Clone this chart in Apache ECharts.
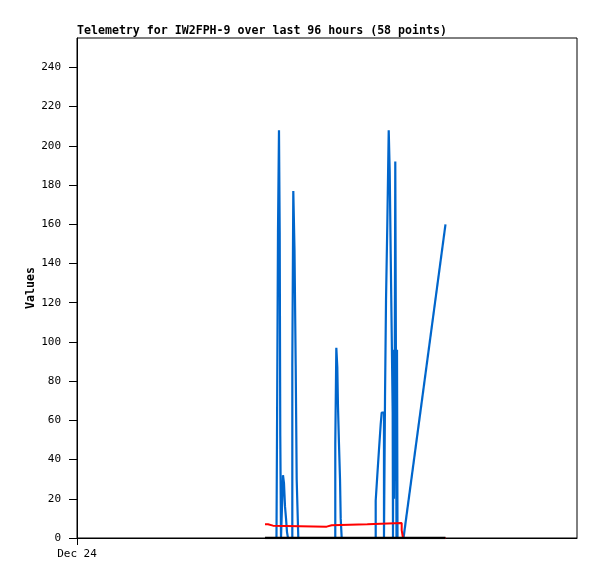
<!DOCTYPE html>
<html>
<head>
<meta charset="utf-8">
<script src="https://cdn.jsdelivr.net/npm/echarts@6/dist/echarts.min.js"></script>
<style>html,body{margin:0;padding:0;background:#fff}#c{width:597px;height:579px}</style>
</head>
<body>
<div id="c"></div>
<script>
// hours since Dec 24 00:00; each point = value reached at that time
const blueHours = [38.30,38.40,38.59,38.78,38.92,39.03,39.17,39.36,39.55,39.74,39.84,39.94,40.13,40.32,40.51,
  41.34,41.53,41.76,41.99,42.18,42.49,
  49.59,49.79,49.98,50.11,50.30,50.50,50.63,50.82,
  57.35,57.66,57.98,58.31,58.50,58.94,59.14,59.33,59.58,59.85,60.04,60.23,60.42,60.61,60.67,60.77,60.86,61.00,61.11,61.25,61.34,61.44,61.54,
  62.69,70.75];
const blueValues = [0,52,156,208,156,52,0,16,32,28,22,16,10,3,0,
  88,177,147,88,30,0,
  48,97,87,67,48,30,10,0,
  19,32,45,58,64,0,72,121,160,208,187,145,105,64,0,96,20,80,192,80,0,96,0,
  0,160];
const redHours = [36.10,36.67,37.63,47.94,48.90,55.74,62.34,62.59,70.75];
const redValues = [7.0,6.3,5.8,6.5,7.0,7.7,4,0,0];
const blackHours = [36.10,70.75];
const blackValues = [0,0];
const xTickLabels = ['Dec 24'];
const title = 'Telemetry for IW2FPH-9 over last 96 hours (58 points)';

const zip = (a,b) => a.map((x,i)=>[x,b[i]]);
const blueAll = zip(blueHours,blueValues);
const blueStepped = blueAll.slice(0, blueAll.length-1);
const blueTail = blueAll.slice(blueAll.length-2);
const chart = echarts.init(document.getElementById('c'), null, {renderer:'canvas'});
const font = 'DejaVu Sans Mono';
const blue = '#0066cc';
chart.setOption({
  animation:false,
  backgroundColor:'#fff',
  title:{text:title,left:77,top:25,padding:0,textStyle:{fontFamily:font,fontSize:11.6,fontWeight:'bold',color:'#000'}},
  grid:{left:77,top:38,right:20,bottom:41,show:true,borderColor:'#000',borderWidth:1,backgroundColor:'transparent'},
  xAxis:{type:'value',min:0,max:96,interval:96,
    axisLine:{lineStyle:{color:'#000',width:1}},
    splitLine:{show:false},
    axisTick:{show:true,inside:false,length:7,customValues:[0],lineStyle:{color:'#000'}},
    axisLabel:{customValues:[0],formatter:v=>v===0?xTickLabels[0]:'',fontFamily:font,fontSize:11,color:'#000',margin:11}
  },
  yAxis:{type:'value',min:0,max:255,interval:20,name:'Values',nameLocation:'middle',nameGap:40,nameMoveOverlap:false,
    nameTextStyle:{fontFamily:font,fontSize:11.6,fontWeight:'bold',color:'#000'},
    axisLine:{show:true,lineStyle:{color:'#000',width:1}},
    splitLine:{show:false},
    axisTick:{show:true,length:8,lineStyle:{color:'#000'}},
    axisLabel:{fontFamily:font,fontSize:11,color:'#000',margin:16,showMaxLabel:false}
  },
  series:[
    {type:'line',step:'end',data:blueStepped,showSymbol:false,lineStyle:{color:blue,width:2.2},itemStyle:{color:blue}},
    {type:'line',data:blueTail,showSymbol:false,lineStyle:{color:blue,width:2.2},itemStyle:{color:blue}},
    {type:'line',step:'end',data:zip(redHours,redValues),showSymbol:false,lineStyle:{color:'#ff0000',width:2},itemStyle:{color:'#ff0000'}},
    {type:'line',data:zip(blackHours,blackValues),showSymbol:false,lineStyle:{color:'#000',width:2.5},itemStyle:{color:'#000'}}
  ]
});
</script>
</body>
</html>
